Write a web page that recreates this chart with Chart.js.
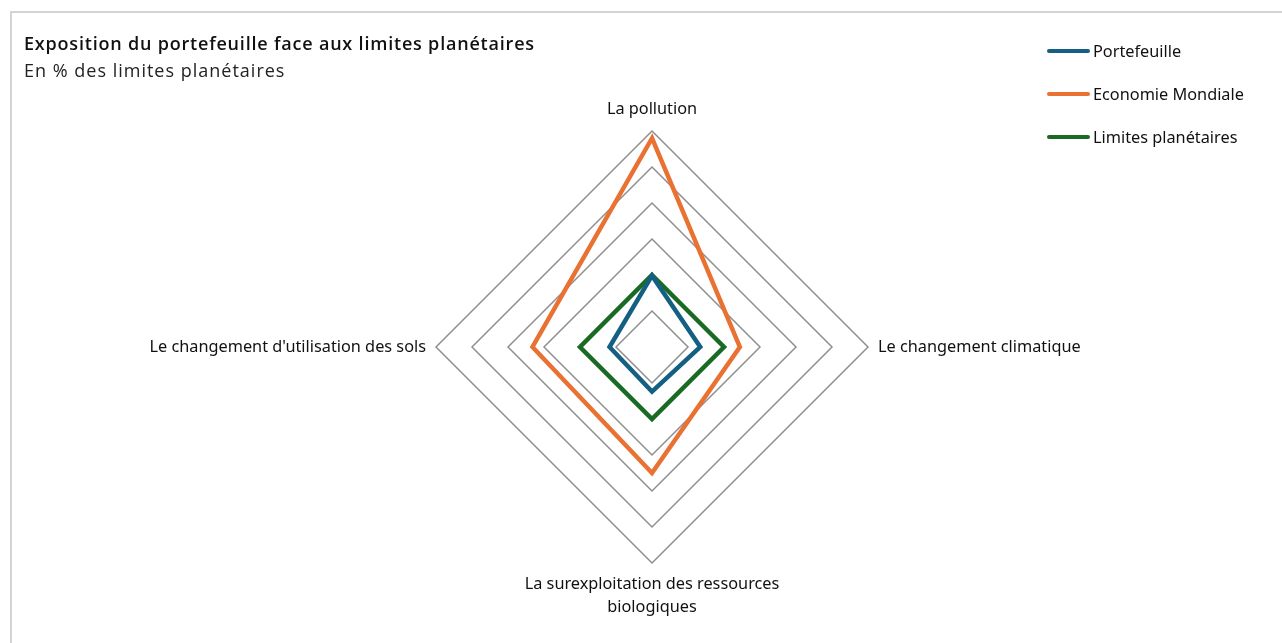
<!DOCTYPE html>
<html>
<head>
<meta charset="utf-8">
<script src="https://cdn.jsdelivr.net/npm/chart.js@4"></script>
<style>
  html, body { margin: 0; padding: 0; background: #fff; }
  body { width: 1282px; height: 643px; position: relative; overflow: hidden; }
  #frame { position: absolute; left: 10px; top: 11px; width: 1300px; height: 700px;
           border-left: 2px solid #d4d4d4; border-top: 2px solid #d4d4d4; }
  #wrap { position: absolute; left: 0; top: 0; width: 1282px; height: 643px; }
  .title { position: absolute; left: 24px; top: 31px; font: 600 18px "Open Sans"; letter-spacing: 0.8px; color: #111; }
  .subtitle { position: absolute; left: 24px; top: 58px; font: 400 18px "Open Sans"; letter-spacing: 1px; color: #222; }
  .legend { position: absolute; left: 1047px; top: 40px; font: 16.3px "Noto Sans"; color: #111; }
  .legend div { height: 43px; display: flex; align-items: flex-start; line-height: 22px; }
  .legend span.sw { display: inline-block; width: 43px; height: 4px; border-radius: 2px; margin-top: 9px; margin-right: 3px; }
</style>
</head>
<body>
<div id="frame"></div>
<div id="wrap"><canvas id="radar"></canvas></div>
<div class="title">Exposition du portefeuille face aux limites planétaires</div>
<div class="subtitle">En % des limites planétaires</div>
<div class="legend" id="legend"></div>
<script>
// axes of the radar
const axisLabels = [
  'La pollution',
  'Le changement climatique',
  ['La surexploitation des ressources', 'biologiques'],
  "Le changement d'utilisation des sols"
];
// values (% of planetary limits)
const portefeuille = [99, 67, 62, 59];
const economieMondiale = [290, 122, 175, 166];
const limitesPlanetaires = [100, 100, 100, 100];

const seriesNames = ['Portefeuille', 'Economie Mondiale', 'Limites planétaires'];
const seriesColors = ['#156082', '#E97132', '#196B24'];
const seriesValues = [portefeuille, economieMondiale, limitesPlanetaires];

const datasets = seriesValues.map(function(values, i) {
  return {
    label: seriesNames[i],
    data: values,
    borderColor: seriesColors[i],
    backgroundColor: 'transparent',
    borderWidth: 4.5,
    pointRadius: 0,
    pointHoverRadius: 0,
    fill: false,
    tension: 0
  };
});

// html legend
const legendEl = document.getElementById('legend');
seriesNames.forEach(function(name, i) {
  const row = document.createElement('div');
  row.innerHTML = '<span class="sw" style="background:' + seriesColors[i] + '"></span>' + name;
  legendEl.appendChild(row);
});

const ctx = document.getElementById('radar');
new Chart(ctx, {
  type: 'radar',
  data: { labels: axisLabels, datasets: datasets },
  options: {
    responsive: true,
    maintainAspectRatio: false,
    animation: false,
    layout: { padding: { top: 87, bottom: 12, left: 22, right: 0 } },
    plugins: {
      legend: { display: false },
      tooltip: { enabled: false }
    },
    scales: {
      r: {
        min: 0,
        max: 300,
        beginAtZero: true,
        ticks: { display: false, stepSize: 50 },
        angleLines: { display: false },
        grid: { color: '#8f8f8f', lineWidth: 1.5 },
        pointLabels: {
          color: '#111',
          padding: 10,
          font: { family: 'Noto Sans', size: 16.3, lineHeight: '23px' }
        }
      }
    }
  }
});
</script>
</body>
</html>
